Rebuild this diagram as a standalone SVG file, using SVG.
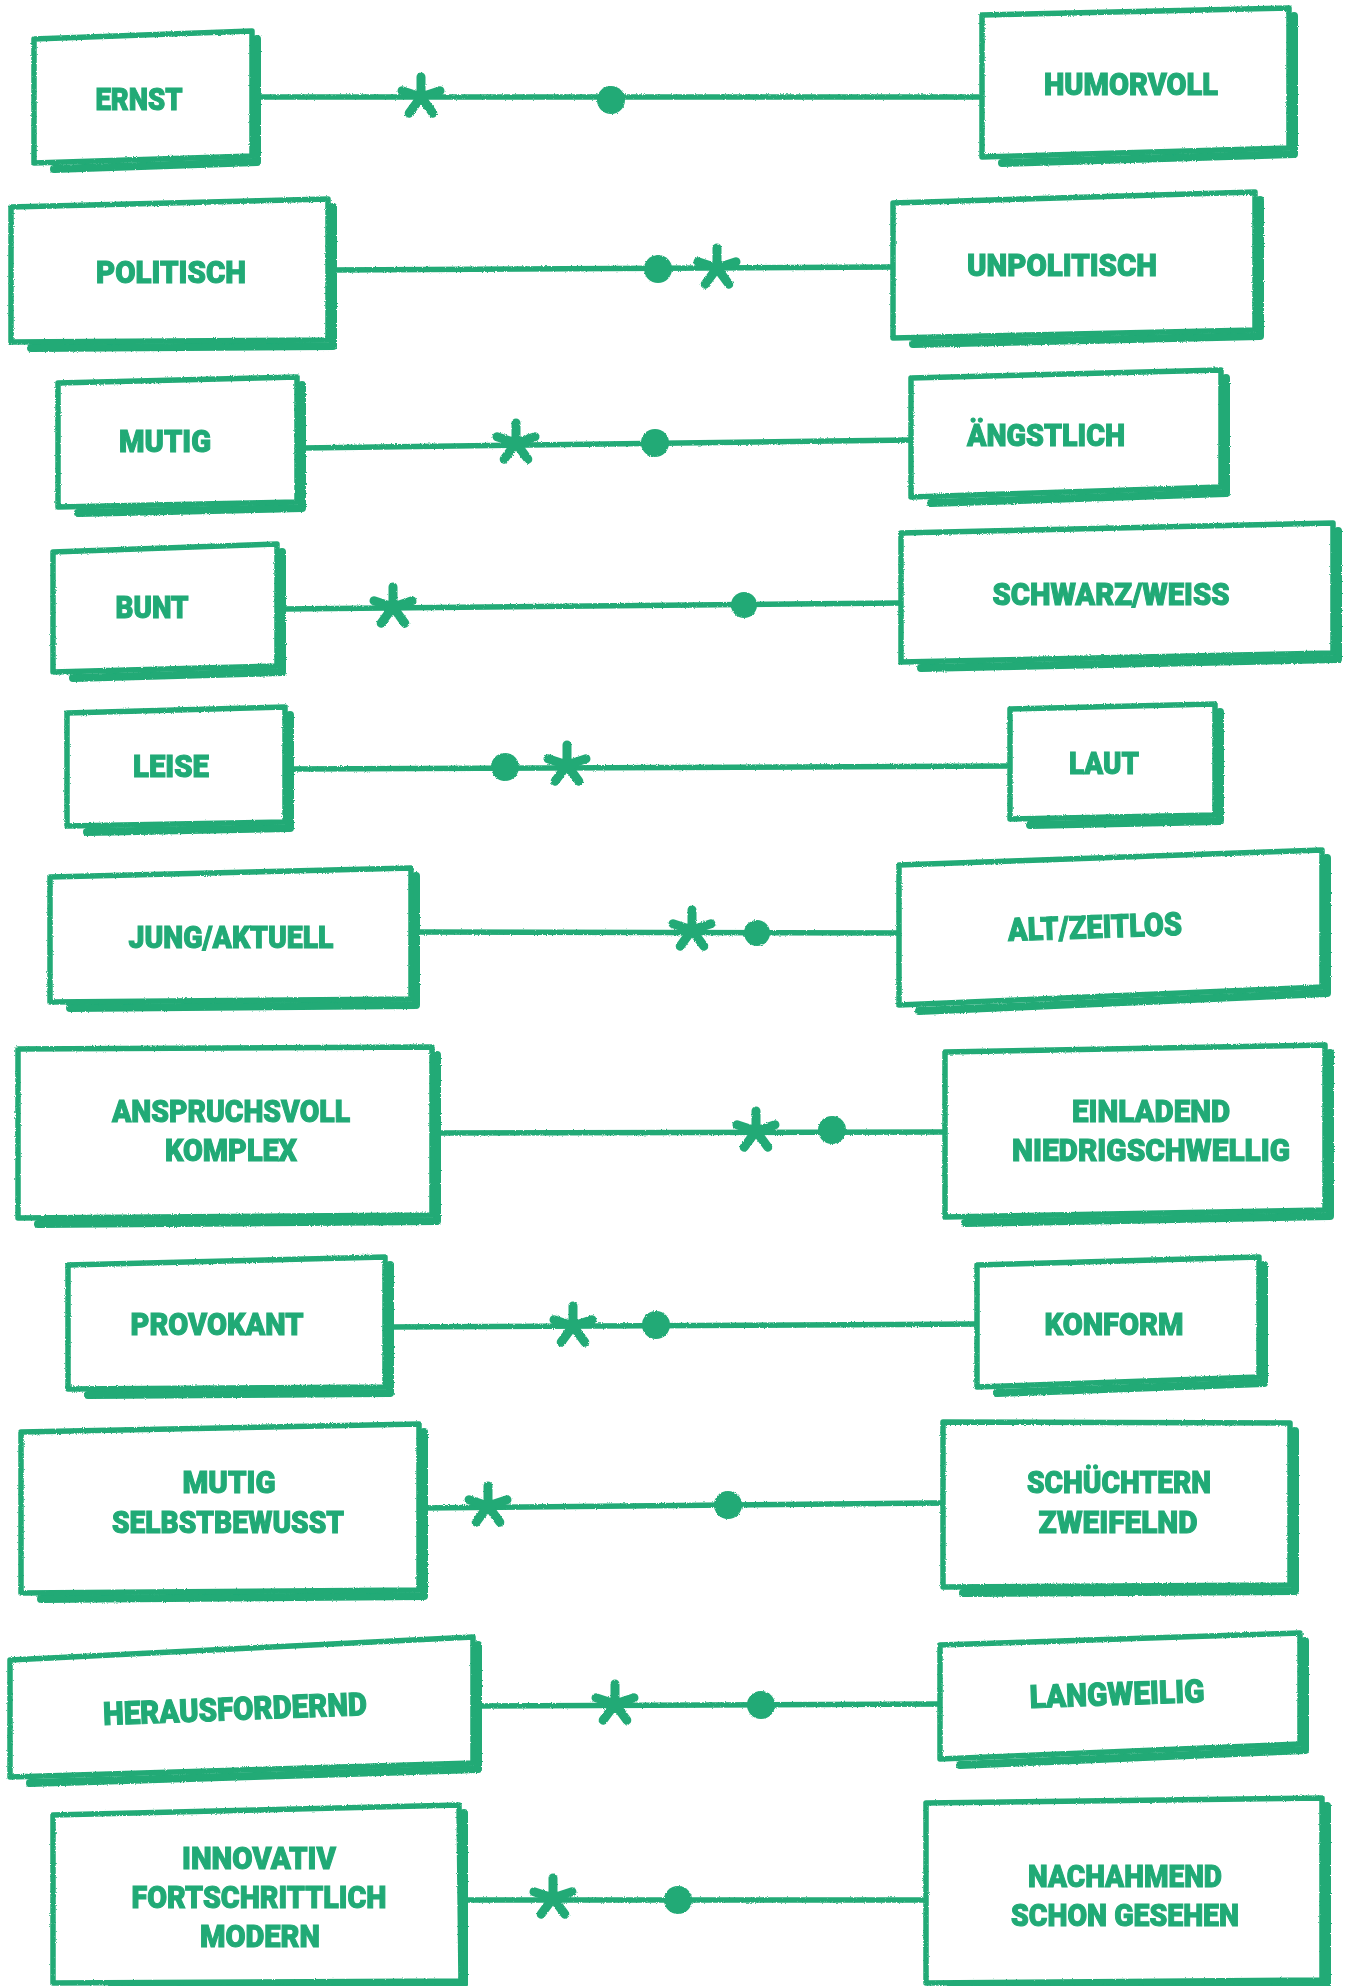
<svg xmlns="http://www.w3.org/2000/svg" xmlns:xlink="http://www.w3.org/1999/xlink" width="1348" height="1986" viewBox="0 0 1348 1986">
<defs>
<style>
.box{fill:#fff;stroke:#21aa76;stroke-width:5.5;stroke-linejoin:round}
.sh{fill:none;stroke:#21aa76;stroke-width:8;stroke-linejoin:round;stroke-linecap:round}
.lbl{font-family:"Roboto","Liberation Sans","DejaVu Sans",sans-serif;font-weight:900;font-size:32px;fill:#21aa76;stroke:#21aa76;stroke-width:1.1;text-anchor:middle}
.ln{fill:none;stroke:#21aa76;stroke-width:5.5;stroke-linecap:round}
.dot{fill:#21aa76}
.ast{fill:none;stroke:#21aa76;stroke-width:9;stroke-linecap:round}
</style>
<filter id="rough" x="-5%" y="-5%" width="110%" height="110%">
<feTurbulence type="fractalNoise" baseFrequency="0.9" numOctaves="2" seed="3" result="n"/>
<feDisplacementMap in="SourceGraphic" in2="n" scale="2.5" xChannelSelector="R" yChannelSelector="G"/>
</filter>
<path id="ast" class="ast" d="M0,0 L0,-20 M0,0 L19,-6.2 M0,0 L11.8,16.2 M0,0 L-11.8,16.2 M0,0 L-19,-6.2"/>
</defs>
<rect width="1348" height="1986" fill="#fff"/>

<g id="connectors" filter="url(#rough)">
<path class="ln" d="M260,97 L982,97"/>
<use href="#ast" x="421" y="97"/><circle class="dot" cx="611" cy="100" r="14"/>
<path class="ln" d="M334,270 L893,267"/>
<circle class="dot" cx="658" cy="269" r="14"/><use href="#ast" x="717" y="268"/>
<path class="ln" d="M303,448 L911,440"/>
<use href="#ast" x="516" y="443"/><circle class="dot" cx="655" cy="443" r="14"/>
<path class="ln" d="M284,609 L901,603"/>
<use href="#ast" x="393" y="607"/><circle class="dot" cx="744" cy="605" r="13"/>
<path class="ln" d="M291,769 L1010,766"/>
<circle class="dot" cx="505" cy="767" r="14"/><use href="#ast" x="567" y="765"/>
<path class="ln" d="M417,932 L899,933"/>
<use href="#ast" x="692" y="930"/><circle class="dot" cx="757" cy="933" r="13"/>
<path class="ln" d="M437,1133 L945,1132"/>
<use href="#ast" x="756" y="1131"/><circle class="dot" cx="832" cy="1130" r="14"/>
<path class="ln" d="M391,1327 L977,1324"/>
<use href="#ast" x="573" y="1326"/><circle class="dot" cx="656" cy="1325" r="14"/>
<path class="ln" d="M423,1508 L943,1503"/>
<use href="#ast" x="488" y="1506"/><circle class="dot" cx="728" cy="1505" r="14"/>
<path class="ln" d="M479,1706 L940,1704"/>
<use href="#ast" x="615" y="1704"/><circle class="dot" cx="761" cy="1705" r="14"/>
<path class="ln" d="M465,1900 L926,1900"/>
<use href="#ast" x="553" y="1898"/><circle class="dot" cx="678" cy="1900" r="14"/>
</g>

<g id="ernst"><polyline class="sh" filter="url(#rough)" points="257,39 257,162 54,169"/><polygon class="box" filter="url(#rough)" points="34,39 252,31 252,156 34,163"/><text class="lbl" x="139" y="110" textLength="87" lengthAdjust="spacingAndGlyphs">ERNST</text></g>
<g id="humorvoll"><polyline class="sh" filter="url(#rough)" points="1294,16 1294,154 1002,163"/><polygon class="box" filter="url(#rough)" points="982,15 1289,8 1289,148 982,157"/><text class="lbl" x="1131" y="95" textLength="174" lengthAdjust="spacingAndGlyphs">HUMORVOLL</text></g>

<g id="politisch"><polyline class="sh" filter="url(#rough)" points="333,207 333,346 31,348"/><polygon class="box" filter="url(#rough)" points="11,207 328,199 328,340 11,342"/><text class="lbl" x="171" y="283" textLength="150" lengthAdjust="spacingAndGlyphs">POLITISCH</text></g>
<g id="unpolitisch"><polyline class="sh" filter="url(#rough)" points="1260,200 1260,336 913,344"/><polygon class="box" filter="url(#rough)" points="893,203 1255,192 1255,330 893,338"/><text class="lbl" x="1062" y="276" textLength="190" lengthAdjust="spacingAndGlyphs">UNPOLITISCH</text></g>

<g id="mutig"><polyline class="sh" filter="url(#rough)" points="302,385 302,508 78,513"/><polygon class="box" filter="url(#rough)" points="58,383 297,377 297,502 58,507"/><text class="lbl" x="165" y="452" textLength="92" lengthAdjust="spacingAndGlyphs">MUTIG</text></g>
<g id="aengstlich"><polyline class="sh" filter="url(#rough)" points="1226,378 1226,493 931,503"/><polygon class="box" filter="url(#rough)" points="911,378 1221,370 1221,487 911,497"/><text class="lbl" x="1046" y="446" textLength="158" lengthAdjust="spacingAndGlyphs">ÄNGSTLICH</text></g>

<g id="bunt"><polyline class="sh" filter="url(#rough)" points="282,552 282,672 73,678"/><polygon class="box" filter="url(#rough)" points="53,552 277,544 277,666 53,672"/><text class="lbl" x="152" y="618" textLength="73" lengthAdjust="spacingAndGlyphs">BUNT</text></g>
<g id="schwarzweiss"><polyline class="sh" filter="url(#rough)" points="1338,531 1338,659 921,668"/><polygon class="box" filter="url(#rough)" points="901,533 1333,523 1333,653 901,662"/><text class="lbl" x="1111" y="605" textLength="237" lengthAdjust="spacingAndGlyphs">SCHWARZ/WEISS</text></g>

<g id="leise"><polyline class="sh" filter="url(#rough)" points="290,715 290,828 87,832"/><polygon class="box" filter="url(#rough)" points="67,713 285,707 285,822 67,826"/><text class="lbl" x="171" y="777" textLength="76" lengthAdjust="spacingAndGlyphs">LEISE</text></g>
<g id="laut"><polyline class="sh" filter="url(#rough)" points="1220,712 1220,821 1030,825"/><polygon class="box" filter="url(#rough)" points="1010,709 1215,704 1215,815 1010,819"/><text class="lbl" x="1104" y="774" textLength="70" lengthAdjust="spacingAndGlyphs">LAUT</text></g>

<g id="jungaktuell"><polyline class="sh" filter="url(#rough)" points="416,876 416,1005 70,1008"/><polygon class="box" filter="url(#rough)" points="50,877 411,868 411,999 50,1002"/><text class="lbl" x="231" y="948" textLength="205" lengthAdjust="spacingAndGlyphs">JUNG/AKTUELL</text></g>
<g id="altzeitlos"><polyline class="sh" filter="url(#rough)" points="1327,858 1327,993 919,1011"/><polygon class="box" filter="url(#rough)" points="899,865 1322,850 1322,987 899,1005"/><text class="lbl" x="1095" y="938" textLength="174" lengthAdjust="spacingAndGlyphs" transform="rotate(-2 1095 930)">ALT/ZEITLOS</text></g>

<g id="anspruchsvoll"><polyline class="sh" filter="url(#rough)" points="437,1055 437,1221 38,1224"/><polygon class="box" filter="url(#rough)" points="18,1049 432,1047 432,1215 18,1218"/><text class="lbl" x="231" y="1122" textLength="238" lengthAdjust="spacingAndGlyphs">ANSPRUCHSVOLL</text><text class="lbl" x="231" y="1161" textLength="132" lengthAdjust="spacingAndGlyphs">KOMPLEX</text></g>
<g id="einladend"><polyline class="sh" filter="url(#rough)" points="1330,1053 1330,1216 965,1223"/><polygon class="box" filter="url(#rough)" points="945,1052 1325,1045 1325,1210 945,1217"/><text class="lbl" x="1151" y="1122" textLength="158" lengthAdjust="spacingAndGlyphs">EINLADEND</text><text class="lbl" x="1151" y="1161" textLength="278" lengthAdjust="spacingAndGlyphs">NIEDRIGSCHWELLIG</text></g>

<g id="provokant"><polyline class="sh" filter="url(#rough)" points="390,1265 390,1393 88,1395"/><polygon class="box" filter="url(#rough)" points="68,1265 385,1257 385,1387 68,1389"/><text class="lbl" x="217" y="1335" textLength="173" lengthAdjust="spacingAndGlyphs">PROVOKANT</text></g>
<g id="konform"><polyline class="sh" filter="url(#rough)" points="1264,1265 1264,1383 997,1393"/><polygon class="box" filter="url(#rough)" points="977,1265 1259,1257 1259,1377 977,1387"/><text class="lbl" x="1114" y="1335" textLength="139" lengthAdjust="spacingAndGlyphs">KONFORM</text></g>

<g id="mutigselbstbewusst"><polyline class="sh" filter="url(#rough)" points="424,1432 424,1596 41,1599"/><polygon class="box" filter="url(#rough)" points="21,1432 419,1424 419,1590 21,1593"/><text class="lbl" x="229" y="1493" textLength="93" lengthAdjust="spacingAndGlyphs">MUTIG</text><text class="lbl" x="228" y="1533" textLength="232" lengthAdjust="spacingAndGlyphs">SELBSTBEWUSST</text></g>
<g id="schuechtern"><polyline class="sh" filter="url(#rough)" points="1295,1431 1295,1591 963,1593"/><polygon class="box" filter="url(#rough)" points="943,1422 1290,1423 1290,1585 943,1587"/><text class="lbl" x="1119" y="1493" textLength="184" lengthAdjust="spacingAndGlyphs">SCHÜCHTERN</text><text class="lbl" x="1118" y="1533" textLength="159" lengthAdjust="spacingAndGlyphs">ZWEIFELND</text></g>

<g id="herausfordernd"><polyline class="sh" filter="url(#rough)" points="478,1645 478,1769 30,1783"/><polygon class="box" filter="url(#rough)" points="10,1660 473,1637 473,1763 10,1777"/><text class="lbl" x="235" y="1720" textLength="264" lengthAdjust="spacingAndGlyphs" transform="rotate(-2.2 235 1710)">HERAUSFORDERND</text></g>
<g id="langweilig"><polyline class="sh" filter="url(#rough)" points="1305,1641 1305,1750 960,1765"/><polygon class="box" filter="url(#rough)" points="940,1645 1300,1633 1300,1744 940,1759"/><text class="lbl" x="1117" y="1705" textLength="175" lengthAdjust="spacingAndGlyphs" transform="rotate(-2 1117 1695)">LANGWEILIG</text></g>

<g id="innovativ"><polyline class="sh" filter="url(#rough)" points="464,1813 464,1985 112,1986"/><polygon class="box" filter="url(#rough)" points="53,1815 459,1805 461,1981 53,1983"/><text class="lbl" x="259" y="1869" textLength="154" lengthAdjust="spacingAndGlyphs">INNOVATIV</text><text class="lbl" x="259" y="1908" textLength="255" lengthAdjust="spacingAndGlyphs">FORTSCHRITTLICH</text><text class="lbl" x="260" y="1947" textLength="120" lengthAdjust="spacingAndGlyphs">MODERN</text></g>
<g id="nachahmend"><polyline class="sh" filter="url(#rough)" points="1327,1806 1327,1985 950,1986"/><polygon class="box" filter="url(#rough)" points="926,1803 1322,1798 1322,1980 926,1983"/><text class="lbl" x="1125" y="1887" textLength="194" lengthAdjust="spacingAndGlyphs">NACHAHMEND</text><text class="lbl" x="1125" y="1926" textLength="228" lengthAdjust="spacingAndGlyphs">SCHON GESEHEN</text></g>
</svg>
